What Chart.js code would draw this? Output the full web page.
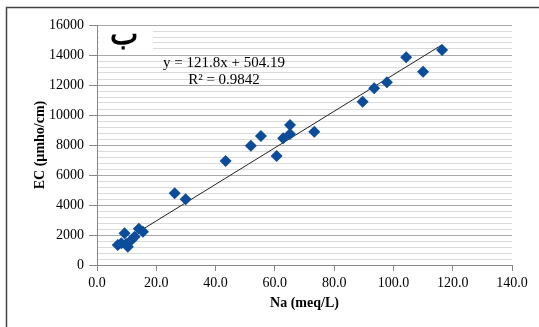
<!DOCTYPE html>
<html>
<head>
<meta charset="utf-8">
<script src="https://cdn.jsdelivr.net/npm/chart.js@4"></script>
<style>
  body { margin: 0; background: #fff; }
  canvas { display: block; }
</style>
</head>
<body>
<canvas id="ecChart" width="539" height="327"></canvas>
<script>
// Na (meq/L) vs EC (umho/cm)
const naValues = [7.0, 8.2, 9.3, 9.8, 10.4, 11.6, 12.7, 14.1, 15.5, 26.2, 29.9, 43.4, 51.9, 55.3, 60.6, 62.8, 65.1, 65.1, 73.3, 89.6, 93.5, 97.8, 104.3, 110.0, 116.4];
const ecValues = [1330, 1450, 2110, 1400, 1220, 1670, 1890, 2420, 2220, 4780, 4380, 6930, 7950, 8600, 7270, 8450, 9330, 8730, 8890, 10890, 11780, 12180, 13850, 12890, 14330];

// trend line ends (y = 121.8x + 504.19)
const trendX = [7.0, 116.4];
const trendY = [1357, 14682];

const equationText = "y = 121.8x + 504.19";
const r2Text = "R\u00b2 = 0.9842";
const panelLetter = "\u0628";

const serif = "'Liberation Serif', 'Times New Roman', serif";
const markerColor = "#0B4C9B";

const annotations = {
  id: "annotations",
  beforeDatasetsDraw(chart) {
    const ctx = chart.ctx;
    ctx.save();
    ctx.fillStyle = "#fff";
    ctx.fillRect(99, 27, 54, 27);
    ctx.restore();
  },
  afterDraw(chart) {
    const ctx = chart.ctx;
    ctx.save();
    // frame
    ctx.strokeStyle = "#444";
    ctx.lineWidth = 1.5;
    ctx.beginPath();
    ctx.moveTo(6.5, 327);
    ctx.lineTo(6.5, 7.5);
    ctx.lineTo(539, 7.5);
    ctx.stroke();

    ctx.fillStyle = "#000";
    ctx.textAlign = "center";
    ctx.textBaseline = "middle";
    ctx.font = "15px " + serif;
    ctx.fillText(equationText, 224, 63);
    ctx.fillText(r2Text, 224, 80);

    ctx.font = "bold 30px " + serif;
    ctx.fillText(panelLetter, 124, 36);
    ctx.restore();
  }
};

const chart = new Chart(document.getElementById("ecChart").getContext("2d"), {
  type: "scatter",
  data: {
    datasets: [
      {
        label: "EC",
        data: naValues.map((x, i) => ({ x: x, y: ecValues[i] })),
        pointStyle: "rectRot",
        pointRadius: 6,
        pointHoverRadius: 6,
        backgroundColor: markerColor,
        borderColor: markerColor,
        borderWidth: 0
      },
      {
        label: "Linear",
        type: "line",
        data: trendX.map((x, i) => ({ x: x, y: trendY[i] })),
        borderColor: "#222",
        borderWidth: 1,
        pointRadius: 0,
        fill: false
      }
    ]
  },
  options: {
    responsive: false,
    animation: false,
    devicePixelRatio: 1,
    layout: { padding: { left: 0, right: 27, top: 25, bottom: 0 } },
    plugins: {
      legend: { display: false },
      tooltip: { enabled: false }
    },
    scales: {
      x: {
        type: "linear",
        min: 0,
        max: 140,
        ticks: {
          stepSize: 20,
          maxRotation: 0,
          padding: 4,
          color: "#000",
          font: { family: serif, size: 14 },
          callback: v => v.toFixed(1)
        },
        grid: { drawOnChartArea: false, tickLength: 6, color: "#868686" },
        border: { color: "#868686" },
        title: {
          display: true,
          text: "Na (meq/L)",
          color: "#000",
          font: { family: serif, size: 14, weight: "bold" },
          padding: { top: 0, bottom: 15 }
        },
        afterFit: s => { s.height = 62; }
      },
      y: {
        min: 0,
        max: 16000,
        ticks: {
          stepSize: 400,
          autoSkip: false,
          padding: 5,
          color: "#000",
          font: { family: serif, size: 14 },
          callback: v => (v % 2000 === 0 ? String(v) : "")
        },
        grid: {
          color: c => (c.tick && c.tick.value % 2000 === 0 ? "#a8a8a8" : "#dadada"),
          tickColor: c => (c.tick && c.tick.value % 2000 === 0 ? "#868686" : "rgba(0,0,0,0)"),
          tickLength: 8
        },
        border: { color: "#868686" },
        title: {
          display: true,
          text: "EC (\u00b5mho/cm)",
          color: "#000",
          font: { family: serif, size: 14, weight: "bold" },
          padding: { top: 32, bottom: 0 }
        },
        afterFit: s => { s.width = 97; }
      }
    }
  },
  plugins: [annotations]
});
</script>
</body>
</html>
